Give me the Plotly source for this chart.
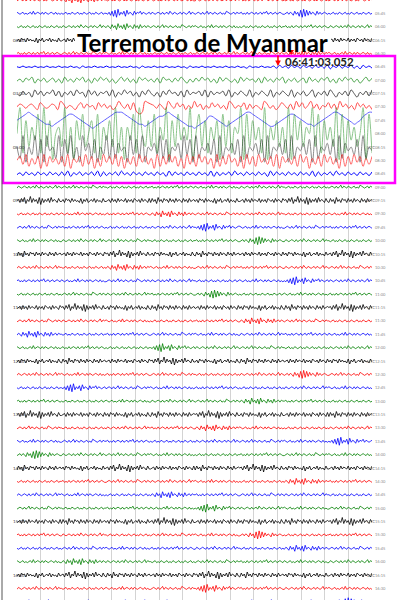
import numpy as np
import plotly.graph_objects as go

# ---------------- data (read/estimated from the helicorder picture) ----------------
# each trace is a string of digits: 5 = baseline, >5 up, <5 down (one sample per char)
row_colours = ["#ff0000", "#0000ff", "#008000", "#000000"]   # red, blue, green, black cycle

traces_before = [  # rows 0-4 (before arrival)
    "456546457465465456454765456465" "465374628463728465374637456465" "545645465456454654564546545645" "654564545647456546465456546454" "465456546456475465456465457465" "564546456546456465745645645654" "545645465456454654564546545645" "456546457465465456454765456465",
    "654564545647456546465456546454" "545645465456454654564546545645" "546372819364728465374657465456" "465456546456475465456465457465" "456546457465465456454765456465" "564546456546456465745645645654" "456465374628192837465374645654" "545645465456454654564546545645",
    "545645465456454654564546545645" "465456546456475465456465457465" "465374628463728465374637456465" "456546457465465456454765456465" "654564545647456546465456546454" "545645465456454654564546545645" "564546456546456465745645645654" "465456546456475465456465457465",
    "463756374645372647356473645374" "456374637465473646375463746537" "374628463756374637465374637456" "463756374645372647356473645374" "456374637465473646375463746537" "374628463756374637465374637456" "563748264937462817364738465374" "456374637465473646375463746537",
    "564546456546456465745645645654" "456546457465465456454765456465" "654564545647456546465456546454" "545645465456454654564546545645" "465456546456475465456465457465" "456546457465465456454765456465" "465374628463728465374637456465" "654564545647456546465456546454",
]

traces_quake = [  # rows 5-13 (arrival at 06:41:03 and surface waves)
    "546454645464546454645364546454645464546453645464546454645364546454645464546453645464546374637463746374638264736473627463",
    "463758264735736284637583627485736258473628574637285637485263748573628475362847563728463758264735728463758362748573625847",
    "537462847365837264738562847365738264857362748536274856372846573827465738264753826475382647538264735826473852647385264738",
    "576467538645763974653684756385746359647382019876475396485736495736485746397465837465397463586473958469473658473957463857463",
    "567898765433234567887654321234567899987654332345677898765432212345776543234567899876543223456788765433234567899876543457899",
    "592736482937156392617483572816473926164829537382649173846491583726471837265918374629164736291847365938274639182746359182",
    "528153827184528173825184627153827264518372815463827154628371825463718254637182546371825463718254637182546371826453718254",
    "573826371827463728164728371628473827163728473618273847261837284736182738462718372846372817463728471637284736182738472637",
    "463746374637463738264736473827364738463746374637462837463746374638273647384637463746283746374637463827364738463746374637",
]

traces_after = [  # rows 14-45
    "465456546456475465456465457465" "456546457465465456454765456465" "545645465456454654564546545645" "564546456546456465745645645654" "654564545647456546465456546454" "465456546456475465456465457465" "545645465456454654564546545645" "456546457465465456454765456465",
    "563748264937462817364738465374" "463756374645372647356473645374" "456374637465473646375463746537" "374628463756374637465374637456" "463756374645372647356473645374" "456374637465473646375463746537" "563748264937462817364738465374" "374628463756374637465374637456",
    "545645465456454654564546545645" "654564545647456546465456546454" "564546456546456465745645645654" "465374628463728465374637456465" "456546457465465456454765456465" "465456546456475465456465457465" "545645465456454654564546545645" "654564545647456546465456546454",
    "456546457465465456454765456465" "564546456546456465745645645654" "545645465456454654564546545645" "465456546456475465456465457465" "546372819364728465374657465456" "654564545647456546465456546454" "456546457465465456454765456465" "564546456546456465745645645654",
    "654564545647456546465456546454" "465456546456475465456465457465" "456546457465465456454765456465" "545645465456454654564546545645" "564546456546456465745645645654" "456465374628192837465374645654" "465456546456475465456465457465" "545645465456454654564546545645",
    "374628463756374637465374637456" "456374637465473646375463746537" "563748264937462817364738465374" "463756374645372647356473645374" "374628463756374637465374637456" "456374637465473646375463746537" "463756374645372647356473645374" "563748264937462817364738465374",
    "465456546456475465456465457465" "545645465456454654564546545645" "465374628463728465374637456465" "654564545647456546465456546454" "456546457465465456454765456465" "564546456546456465745645645654" "465456546456475465456465457465" "456546457465465456454765456465",
    "564546456546456465745645645654" "654564545647456546465456546454" "456546457465465456454765456465" "465456546456475465456465457465" "545645465456454654564546545645" "654564545647456546465456546454" "546372819364728465374657465456" "465456546456475465456465457465",
    "545645465456454654564546545645" "456546457465465456454765456465" "465456546456475465456465457465" "564546456546456465745645645654" "456465374628192837465374645654" "545645465456454654564546545645" "654564545647456546465456546454" "564546456546456465745645645654",
    "456374637465473646375463746537" "563748264937462817364738465374" "463756374645372647356473645374" "374628463756374637465374637456" "456374637465473646375463746537" "463756374645372647356473645374" "374628463756374637465374637456" "563748264937462817364738465374",
    "456546457465465456454765456465" "465456546456475465456465457465" "654564545647456546465456546454" "545645465456454654564546545645" "564546456546456465745645645654" "465374628463728465374637456465" "456546457465465456454765456465" "545645465456454654564546545645",
    "465374628463728465374637456465" "545645465456454654564546545645" "564546456546456465745645645654" "456546457465465456454765456465" "654564545647456546465456546454" "465456546456475465456465457465" "564546456546456465745645645654" "654564545647456546465456546454",
    "654564545647456546465456546454" "564546456546456465745645645654" "545645465456454654564546545645" "546372819364728465374657465456" "465456546456475465456465457465" "456546457465465456454765456465" "545645465456454654564546545645" "465456546456475465456465457465",
    "463756374645372647356473645374" "374628463756374637465374637456" "456374637465473646375463746537" "563748264937462817364738465374" "463756374645372647356473645374" "374628463756374637465374637456" "456374637465473646375463746537" "463756374645372647356473645374",
    "465456546456475465456465457465" "654564545647456546465456546454" "564546456546456465745645645654" "456546457465465456454765456465" "545645465456454654564546545645" "465456546456475465456465457465" "456465374628192837465374645654" "456546457465465456454765456465",
    "545645465456454654564546545645" "546372819364728465374657465456" "456546457465465456454765456465" "654564545647456546465456546454" "564546456546456465745645645654" "545645465456454654564546545645" "465456546456475465456465457465" "654564545647456546465456546454",
    "564546456546456465745645645654" "545645465456454654564546545645" "654564545647456546465456546454" "465456546456475465456465457465" "456546457465465456454765456465" "465374628463728465374637456465" "564546456546456465745645645654" "545645465456454654564546545645",
    "563748264937462817364738465374" "456374637465473646375463746537" "463756374645372647356473645374" "374628463756374637465374637456" "563748264937462817364738465374" "463756374645372647356473645374" "456374637465473646375463746537" "374628463756374637465374637456",
    "456546457465465456454765456465" "545645465456454654564546545645" "465456546456475465456465457465" "564546456546456465745645645654" "465374628463728465374637456465" "654564545647456546465456546454" "545645465456454654564546545645" "465456546456475465456465457465",
    "654564545647456546465456546454" "456546457465465456454765456465" "564546456546456465745645645654" "545645465456454654564546545645" "465456546456475465456465457465" "456546457465465456454765456465" "654564545647456546465456546454" "546372819364728465374657465456",
    "456465374628192837465374645654" "465456546456475465456465457465" "456546457465465456454765456465" "654564545647456546465456546454" "545645465456454654564546545645" "564546456546456465745645645654" "456546457465465456454765456465" "654564545647456546465456546454",
    "374628463756374637465374637456" "463756374645372647356473645374" "563748264937462817364738465374" "456374637465473646375463746537" "374628463756374637465374637456" "563748264937462817364738465374" "463756374645372647356473645374" "456374637465473646375463746537",
    "545645465456454654564546545645" "564546456546456465745645645654" "456546457465465456454765456465" "465456546456475465456465457465" "654564545647456546465456546454" "545645465456454654564546545645" "465374628463728465374637456465" "564546456546456465745645645654",
    "465456546456475465456465457465" "654564545647456546465456546454" "545645465456454654564546545645" "465374628463728465374637456465" "564546456546456465745645645654" "456546457465465456454765456465" "465456546456475465456465457465" "545645465456454654564546545645",
    "456546457465465456454765456465" "545645465456454654564546545645" "564546456546456465745645645654" "654564545647456546465456546454" "546372819364728465374657465456" "465456546456475465456465457465" "654564545647456546465456546454" "456546457465465456454765456465",
    "456374637465473646375463746537" "374628463756374637465374637456" "463756374645372647356473645374" "563748264937462817364738465374" "456374637465473646375463746537" "463756374645372647356473645374" "374628463756374637465374637456" "563748264937462817364738465374",
    "564546456546456465745645645654" "465456546456475465456465457465" "545645465456454654564546545645" "456546457465465456454765456465" "654564545647456546465456546454" "456465374628192837465374645654" "545645465456454654564546545645" "564546456546456465745645645654",
    "545645465456454654564546545645" "456546457465465456454765456465" "654564545647456546465456546454" "564546456546456465745645645654" "465456546456475465456465457465" "545645465456454654564546545645" "465374628463728465374637456465" "456546457465465456454765456465",
    "654564545647456546465456546454" "465374628463728465374637456465" "465456546456475465456465457465" "545645465456454654564546545645" "456546457465465456454765456465" "564546456546456465745645645654" "654564545647456546465456546454" "465456546456475465456465457465",
    "463756374645372647356473645374" "563748264937462817364738465374" "374628463756374637465374637456" "456374637465473646375463746537" "563748264937462817364738465374" "374628463756374637465374637456" "463756374645372647356473645374" "456374637465473646375463746537",
    "465456546456475465456465457465" "545645465456454654564546545645" "654564545647456546465456546454" "456546457465465456454765456465" "546372819364728465374657465456" "564546456546456465745645645654" "465456546456475465456465457465" "654564545647456546465456546454",
    "456546457465465456454765456465" "564546456546456465745645645654" "465456546456475465456465457465" "654564545647456546465456546454" "545645465456454654564546545645" "456546457465465456454765456465" "564546456546456465745645645654" "456465374628192837465374645654",
]

# amplitude scale (pixels per digit step)
quake_gain = [0.7, 1.0, 1.2, 1.4, 2.0, 6.5, 3.8, 2.0, 0.9]
quake_opacity = [1.0, 0.7, 0.7, 0.7, 0.6, 0.45, 0.45, 0.6, 1.0]
noise_gain = 1.0
noise_gain_black = 1.0

row_start_hour = 6          # first black row = 06:00
title_text = "Terremoto de Myanmar"
pick_text = "06:41:03.052"

# ---------------- layout constants ----------------
W, H = 400, 600
L, R = 17, 28
PW = W - L - R
ROW_PX = 13.375
Y0_PX = -0.125
MINUTES = 15


def px_x(px):
    return (px - L) / PW


def px_y(py):
    return 1 - py / H


all_rows = traces_before + traces_quake + traces_after
nb = len(traces_before)
nq = len(traces_quake)

fig = go.Figure()
for k, s in enumerate(all_rows):
    col = row_colours[k % 4]
    big = nb <= k < nb + nq
    if big:
        g = quake_gain[k - nb]
        op = quake_opacity[k - nb]
    else:
        g = noise_gain_black if col == "#000000" else noise_gain
        op = 1.0
    vals = np.array([int(c) for c in s], dtype=float)
    amp_px = (vals - 5) * g
    y = k - amp_px / ROW_PX
    x = np.linspace(0, MINUTES, len(s))
    line = dict(color=col, width=0.8)
    if big:
        line.update(width=1.0, shape="spline", smoothing=1.0)
    fig.add_trace(go.Scatter(x=x, y=y, mode="lines", line=line, opacity=op,
                             hoverinfo="skip", showlegend=False))

ymin = (0 - Y0_PX) / ROW_PX
ymax = (H - Y0_PX) / ROW_PX

annotations = []
shapes = []
# row labels
for k in range(len(all_rows)):
    total_min = (k - 3) * 15 + row_start_hour * 60
    end_min = total_min + 15
    hh, mm = divmod(end_min % 1440, 60)
    annotations.append(dict(xref="paper", yref="y", x=px_x(388), y=k, text=f"{hh:02d}:{mm:02d}",
                            showarrow=False, font=dict(size=4, color="#8a8a8a", family="Lato")))
    if k % 4 == 3:
        h2, m2 = divmod(total_min % 1440, 60)
        annotations.append(dict(xref="paper", yref="y", x=px_x(11), y=k, text=f"{h2:02d}:{m2:02d}",
                                showarrow=False, font=dict(size=4.5, color="#444", family="Lato")))
        annotations.append(dict(xref="paper", yref="y", x=px_x(377), y=k, text="UTC",
                                showarrow=False, font=dict(size=4, color="#666", family="Lato")))

# title with white backing
shapes.append(dict(type="rect", xref="paper", yref="paper", x0=px_x(75), x1=px_x(331),
                   y0=px_y(51), y1=px_y(31), fillcolor="white", line=dict(width=0), layer="above"))
annotations.append(dict(xref="paper", yref="paper", x=px_x(202), y=px_y(43), text=f"<b>{title_text}</b>",
                        showarrow=False, yanchor="middle", xanchor="center",
                        font=dict(size=24, color="#000", family="Lato")))
# magenta box
shapes.append(dict(type="rect", xref="paper", yref="paper", x0=px_x(3), x1=px_x(395),
                   y0=px_y(183), y1=px_y(56), line=dict(color="#ff00ff", width=2.5), layer="above"))
# left border line
shapes.append(dict(type="line", xref="paper", yref="paper", x0=px_x(2), x1=px_x(2), y0=0, y1=1,
                   line=dict(color="#555", width=1), layer="above"))
# small red marker above the box
shapes.append(dict(type="path", xref="paper", yref="paper",
                   path=f"M {px_x(288)} {px_y(50)} L {px_x(294)} {px_y(50)} L {px_x(291)} {px_y(55)} Z",
                   fillcolor="#ff0000", line=dict(width=0), layer="above"))
# pick time and arrow
annotations.append(dict(xref="paper", yref="paper", x=px_x(283), y=px_y(61), text=f"<b>{pick_text}</b>",
                        showarrow=False, xanchor="left", yanchor="middle",
                        font=dict(size=11.5, color="#222", family="Lato")))
annotations.append(dict(xref="paper", yref="paper", x=px_x(278), y=px_y(66), text="",
                        showarrow=True, ax=0, ay=-12, arrowhead=2, arrowsize=0.8, arrowwidth=1.4,
                        arrowcolor="#ff0000"))

fig.update_layout(
    width=W, height=H, margin=dict(l=L, r=R, t=0, b=0),
    paper_bgcolor="white", plot_bgcolor="white", showlegend=False,
    xaxis=dict(range=[0, MINUTES], dtick=1, tick0=0, showgrid=True, gridcolor="#d3d3d3", gridwidth=1,
               zeroline=False, showticklabels=False, ticks="", showline=False, fixedrange=True),
    yaxis=dict(range=[ymax, ymin], showgrid=False, zeroline=False, showticklabels=False,
               ticks="", showline=False, fixedrange=True),
    annotations=annotations, shapes=shapes, hovermode=False,
)

fig.write_html("out.html", config={"displayModeBar": False},
               post_script="document.body.style.margin='0px';")
